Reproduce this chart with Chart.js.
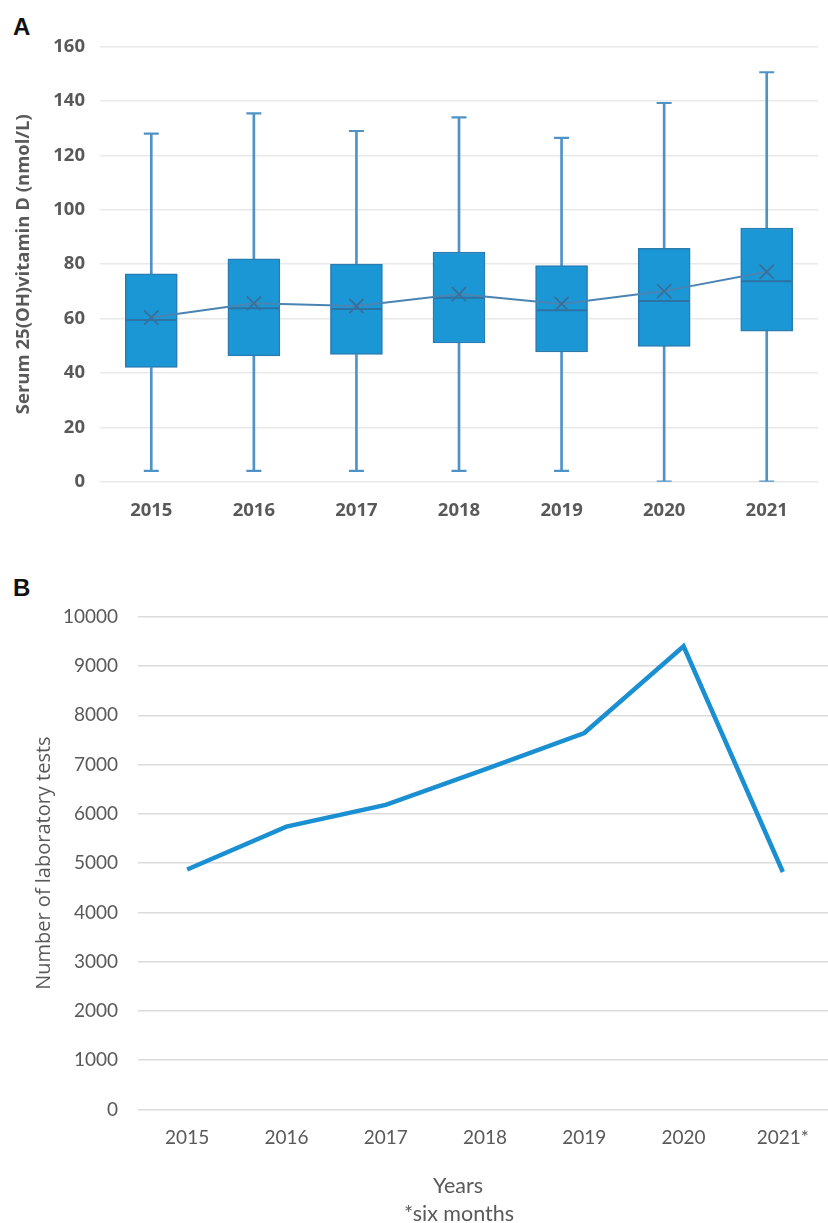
<!DOCTYPE html>
<html>
<head>
<meta charset="utf-8">
<script src="https://cdn.jsdelivr.net/npm/chart.js@4.4.1/dist/chart.umd.min.js"></script>
<style>
  html, body { margin: 0; padding: 0; background: #ffffff; width: 828px; height: 1223px; overflow: hidden; }
  .wrap { position: absolute; left: 0; }
  .panel { position: absolute; font-family: "Liberation Sans", Arial, sans-serif; font-weight: bold; font-size: 24px; line-height: 24px; color: #111; }
</style>
</head>
<body>
<div class="panel" style="left:13px; top:15px;">A</div>
<div class="panel" style="left:13px; top:576px;">B</div>
<div class="wrap" style="top:0px;"><canvas id="boxChart" width="845" height="530"></canvas></div>
<div class="wrap" style="top:560px;"><canvas id="lineChart" width="835" height="663"></canvas></div>
<script>
// Panel A: serum 25(OH)vitamin D distribution per year
const years = ['2015', '2016', '2017', '2018', '2019', '2020', '2021'];
const vitMin    = [4, 4, 4, 4, 4, 0, 0];
const vitQ1     = [42, 46.3, 46.8, 51, 47.7, 49.8, 55.4];
const vitMedian = [59.5, 63.8, 63.5, 67.7, 63.1, 66.5, 73.7];
const vitQ3     = [76.5, 82, 80, 84.5, 79.5, 85.8, 93.3];
const vitMax    = [128, 135.5, 129, 134, 126.5, 139.3, 150.6];
const vitMean   = [60.4, 65.6, 64.6, 69, 65.4, 70.1, 77.2];
const vitTicks  = { min: 0, max: 160, step: 20 };

// Panel B: number of laboratory tests per year
const testYears = ['2015', '2016', '2017', '2018', '2019', '2020', '2021*'];
const testCounts = [4870, 5740, 6180, 6900, 7640, 9400, 4820];
const testTicks = { min: 0, max: 10000, step: 1000 };

const gray = '#595959';

new Chart(document.getElementById('boxChart'), {
  type: 'bar',
  data: {
    labels: years,
    datasets: [
      {
        label: 'mean',
        type: 'line',
        data: vitMean,
        borderColor: '#4a84b2',
        borderWidth: 2,
        pointStyle: 'crossRot',
        pointRadius: 10,
        pointBorderWidth: 1.8,
        pointBorderColor: '#3a6f9a',
        pointBackgroundColor: 'transparent',
        tension: 0,
        order: 0
      },
      {
        label: 'median',
        type: 'line',
        data: vitMedian,
        showLine: false,
        pointStyle: 'line',
        pointRadius: 25,
        pointBorderWidth: 2,
        pointBorderColor: '#2c72a2',
        order: 1
      },
      {
        label: 'box',
        data: years.map((_, i) => [vitQ1[i], vitQ3[i]]),
        backgroundColor: '#1b97d5',
        borderColor: '#2a7bb0',
        borderWidth: 1.5,
        borderSkipped: false,
        barThickness: 52,
        grouped: false,
        order: 2
      },
      {
        label: 'upper whisker',
        data: years.map((_, i) => [vitQ3[i], vitMax[i]]),
        backgroundColor: '#4f93c6',
        borderWidth: 0,
        barThickness: 2,
        grouped: false,
        order: 3
      },
      {
        label: 'lower whisker',
        data: years.map((_, i) => [vitMin[i], vitQ1[i]]),
        backgroundColor: '#4f93c6',
        borderWidth: 0,
        barThickness: 2,
        grouped: false,
        order: 3
      },
      {
        label: 'max cap',
        type: 'line',
        data: vitMax,
        showLine: false,
        pointStyle: 'line',
        pointRadius: 7.5,
        pointBorderWidth: 2.2,
        pointBorderColor: '#4f93c6',
        order: 3
      },
      {
        label: 'min cap',
        type: 'line',
        data: vitMin,
        showLine: false,
        pointStyle: 'line',
        pointRadius: 7.5,
        pointBorderWidth: 2.2,
        pointBorderColor: '#4f93c6',
        order: 3
      }
    ]
  },
  options: {
    responsive: false,
    animation: false,
    layout: { padding: { top: 46.7, right: 4, bottom: 0, left: 0 } },
    plugins: { legend: { display: false }, tooltip: { enabled: false } },
    scales: {
      x: {
        offset: true,
        grid: { display: false, drawTicks: false },
        border: { display: false },
        ticks: {
          color: gray,
          padding: 18,
          font: { family: '"Open Sans", sans-serif', weight: 'bold', size: 18.5 }
        },
        afterFit(scale) { scale.height = 48.3; }
      },
      y: {
        min: vitTicks.min,
        max: vitTicks.max,
        grid: { color: '#e9e9e9', lineWidth: 1.5, drawTicks: false },
        border: { display: false },
        ticks: {
          stepSize: vitTicks.step,
          color: gray,
          padding: 15,
          font: { family: '"Open Sans", sans-serif', weight: 'bold', size: 18.5 }
        },
        title: {
          display: true,
          text: 'Serum 25(OH)vitamin D (nmol/L)',
          color: gray,
          padding: { top: 13, bottom: 0 },
          font: { family: '"Open Sans", sans-serif', weight: 'bold', size: 18.5 }
        },
        afterFit(scale) { scale.width = 100; }
      }
    }
  }
});

// Caption under the x axis of panel B
const captionPlugin = {
  id: 'caption',
  afterDraw(chart) {
    const ctx = chart.ctx;
    ctx.save();
    ctx.fillStyle = gray;
    ctx.font = '21.5px Lato, sans-serif';
    ctx.textAlign = 'center';
    ctx.textBaseline = 'middle';
    ctx.fillText('Years', 458, 626);
    ctx.fillText('*six months', 459, 654);
    ctx.restore();
  }
};

new Chart(document.getElementById('lineChart'), {
  type: 'line',
  data: {
    labels: testYears,
    datasets: [{
      label: 'tests',
      data: testCounts,
      borderColor: '#1a8fd1',
      borderWidth: 4.5,
      pointRadius: 0,
      tension: 0,
      fill: false
    }]
  },
  options: {
    responsive: false,
    animation: false,
    layout: { padding: { top: 56.7, right: 2.5, bottom: 0, left: 0 } },
    plugins: { legend: { display: false }, tooltip: { enabled: false } },
    scales: {
      x: {
        offset: true,
        grid: { display: false, drawTicks: false },
        border: { display: false },
        ticks: {
          color: gray,
          padding: 17.4,
          font: { family: 'Lato, sans-serif', size: 19 }
        },
        afterFit(scale) { scale.height = 113.5; }
      },
      y: {
        min: testTicks.min,
        max: testTicks.max,
        grid: { color: '#dcdcdc', lineWidth: 1.5, drawTicks: false },
        border: { display: false },
        ticks: {
          stepSize: testTicks.step,
          color: gray,
          padding: 19.5,
          font: { family: 'Lato, sans-serif', size: 19 },
          callback: (v) => String(v)
        },
        title: {
          display: true,
          text: 'Number of laboratory tests',
          color: gray,
          padding: { top: 32, bottom: 0 },
          font: { family: '"Open Sans", sans-serif', size: 20 }
        },
        afterFit(scale) { scale.width = 137.5; }
      }
    }
  },
  plugins: [captionPlugin]
});
</script>
</body>
</html>
